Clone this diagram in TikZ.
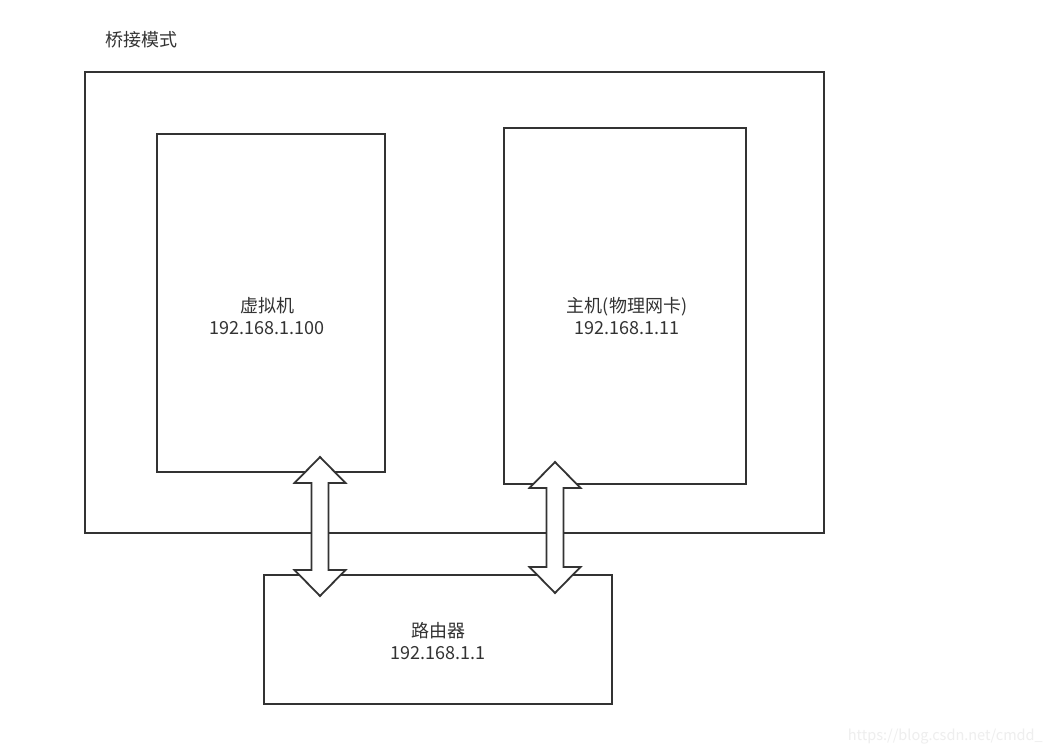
\documentclass[tikz,border=0pt]{standalone}
\usepackage{fontspec}
\setmainfont{Noto Sans CJK SC}
\usetikzlibrary{calc}
\definecolor{ink}{HTML}{333333}
\definecolor{wm}{HTML}{EEEEEE}
\tikzset{
  box/.style={draw=ink, line width=1.8pt, fill=white},
  lbl/.style={text=ink, font=\fontsize{18}{22}\selectfont, align=center, inner sep=0pt},
  dblarrow/.style={draw=ink, line width=1.8pt, fill=white, line join=miter},
}
% vertical double arrow centred at x=#1, from tip y=#2 to tip y=#3
\newcommand{\vdarrow}[3]{%
  \draw[dblarrow] (#1,#2) -- (#1+25.5,#2+26) -- (#1+8.5,#2+26) -- (#1+8.5,#3-26)
    -- (#1+25.5,#3-26) -- (#1,#3) -- (#1-25.5,#3-26) -- (#1-8.5,#3-26)
    -- (#1-8.5,#2+26) -- (#1-25.5,#2+26) -- cycle;}
\begin{document}
\begin{tikzpicture}[x=1pt,y=-1pt]
  \useasboundingbox (0,0) rectangle (1052,754);
  \fill[white] (0,0) rectangle (1052,754);

  \node[lbl, anchor=west] (title) at (105,40) {桥接模式};

  % outer frame, the bridged machine
  \draw[box] (85,72) rectangle (824,533);

  % virtual machine
  \draw[box] (157,134) rectangle (385,472);
  \node[lbl] (vm) at (267,316) {虚拟机\\192.168.1.100};

  % host with physical NIC
  \draw[box] (504,128) rectangle (746,484);
  \node[lbl] (host) at (627,316) {主机(物理网卡)\\192.168.1.11};

  % router
  \draw[box] (264,575) rectangle (612,704);
  \node[lbl] (router) at (438,641) {路由器\\192.168.1.1};

  % links to the router
  \vdarrow{320}{457}{596}
  \vdarrow{555}{462}{593}

  \node[text=wm, font=\fontsize{14.5}{16}\selectfont, anchor=east, inner sep=0pt] (wmark) at (1043,737) {https://blog.csdn.net/cmdd\_};
\end{tikzpicture}
\end{document}
